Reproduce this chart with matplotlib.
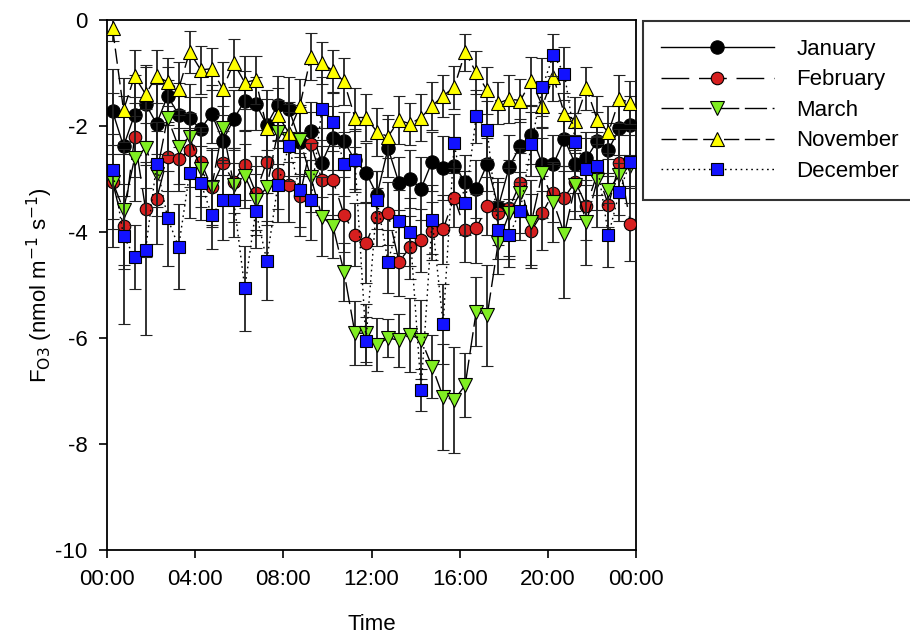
"""Half-hourly ozone flux by month, with error bars."""
import matplotlib
import numpy as np

matplotlib.use("Agg")
from matplotlib import pyplot as plt

plt.rcParams["font.family"] = ["Liberation Sans", "DejaVu Sans"]
plt.rcParams["axes.unicode_minus"] = False

# half-hour bin centres (hours)
hours = np.arange(0.25, 24.0, 0.5)

january = [-1.72, -2.38, -1.79, -1.58, -1.96, -1.43, -1.79, -1.85, -2.06, -1.77, -2.28, -1.87,
           -1.52, -1.58, -1.98, -1.60, -1.67, -2.30, -2.09, -2.69, -2.23, -2.28, -2.65, -2.88,
           -3.30, -2.42, -3.08, -3.00, -3.18, -2.67, -2.79, -2.75, -3.05, -3.19, -2.72, -3.53,
           -2.77, -2.37, -2.17, -2.72, -2.72, -2.25, -2.72, -2.61, -2.28, -2.45, -2.04, -1.99]
january_err = [0.80, 0.95, 0.75, 0.70, 0.75, 0.55, 0.60, 0.65, 0.60, 0.55, 0.65, 0.55,
               0.55, 0.50, 0.65, 0.55, 0.60, 0.65, 0.55, 0.65, 0.60, 0.55, 0.60, 0.55,
               0.45, 0.55, 0.50, 0.55, 0.60, 0.55, 0.60, 0.55, 0.50, 0.55, 0.50, 0.55,
               0.60, 0.50, 0.55, 0.50, 0.55, 0.50, 0.55, 0.50, 0.55, 0.50, 0.50, 0.55]

february = [-3.05, -3.89, -2.21, -3.57, -3.38, -2.58, -2.63, -2.45, -2.67, -3.16, -2.70, -3.05,
            -2.74, -3.26, -2.67, -2.91, -3.11, -3.33, -2.34, -3.02, -3.02, -3.67, -4.05, -4.21,
            -3.72, -3.65, -4.56, -4.29, -4.16, -3.98, -3.95, -3.35, -3.96, -3.93, -3.51, -3.65,
            -3.55, -3.07, -3.98, -3.64, -3.26, -3.35, -3.05, -3.51, -2.89, -3.49, -2.70, -3.84]
february_err = [0.70, 0.80, 0.75, 0.90, 0.85, 0.65, 0.60, 0.70, 0.65, 0.70, 0.60, 0.60,
                0.65, 0.70, 0.60, 0.65, 0.70, 0.75, 0.60, 0.65, 0.65, 0.70, 0.60, 0.75,
                0.55, 0.60, 0.65, 0.60, 0.60, 0.55, 0.65, 0.55, 0.60, 0.65, 0.55, 0.60,
                0.90, 0.65, 0.70, 0.70, 0.55, 0.60, 0.55, 0.65, 0.70, 0.60, 0.65, 0.70]

march = [-3.05, -3.58, -2.61, -2.42, -2.90, -1.84, -2.40, -2.20, -2.82, -3.16, -2.04, -3.11,
         -2.94, -3.40, -3.16, -2.11, -2.25, -2.26, -2.97, -3.71, -3.89, -4.75, -5.91, -5.91,
         -6.13, -6.00, -6.04, -5.94, -6.03, -6.54, -7.11, -7.17, -6.89, -5.50, -5.57, -4.20,
         -3.65, -3.26, -3.82, -2.89, -3.43, -4.04, -3.11, -3.82, -3.01, -3.21, -2.92, -2.75]
march_err = [0.90, 1.05, 0.80, 0.75, 0.80, 0.70, 0.70, 0.75, 0.70, 0.75, 0.65, 0.70,
             0.60, 0.65, 0.70, 0.60, 0.70, 0.65, 0.65, 0.75, 0.60, 0.55, 0.60, 0.55,
             0.50, 0.35, 0.50, 0.70, 0.75, 0.60, 1.00, 1.00, 0.60, 0.65, 0.95, 0.60,
             0.85, 0.75, 0.80, 0.85, 0.75, 1.20, 0.65, 0.80, 0.90, 0.70, 0.75, 0.70]

november = [-0.15, -1.70, -1.06, -1.40, -1.06, -1.17, -1.30, -0.60, -0.94, -0.92, -1.30, -0.81,
            -1.18, -1.13, -2.04, -1.79, -2.13, -1.62, -0.69, -0.81, -0.96, -1.16, -1.84, -1.84,
            -2.11, -2.20, -1.89, -1.96, -1.84, -1.62, -1.43, -1.27, -0.61, -0.99, -1.33, -1.57,
            -1.49, -1.52, -1.15, -1.62, -1.07, -1.77, -1.90, -1.29, -1.89, -2.12, -1.49, -1.56]
november_err = [0.25, 0.60, 0.50, 0.55, 0.50, 0.45, 0.50, 0.40, 0.45, 0.40, 0.50, 0.45,
                0.50, 0.45, 0.55, 0.50, 0.55, 0.50, 0.45, 0.40, 0.40, 0.45, 0.55, 0.45,
                0.45, 0.40, 0.45, 0.40, 0.45, 0.45, 0.40, 0.40, 0.35, 0.40, 0.45, 0.40,
                0.45, 0.40, 0.45, 0.40, 0.45, 0.40, 0.45, 0.40, 0.45, 0.50, 0.45, 0.40]

december = [-2.83, -4.08, -4.47, -4.34, -2.72, -3.74, -4.28, -2.88, -3.07, -3.68, -3.40, -3.40,
            -5.06, -3.60, -4.54, -3.11, -2.38, -3.21, -3.40, -1.67, -1.92, -2.72, -2.64, -6.05,
            -3.40, -4.56, -3.80, -4.00, -6.98, -3.77, -5.74, -2.33, -3.45, -1.82, -2.08, -3.96,
            -4.06, -3.60, -2.34, -1.27, -0.66, -1.01, -2.30, -2.82, -2.75, -4.06, -3.24, -2.67]
december_err = [1.45, 1.65, 0.60, 1.60, 0.80, 0.90, 0.80, 0.85, 0.70, 0.65, 0.75, 0.70,
                0.80, 0.70, 0.75, 0.70, 0.65, 0.70, 0.75, 0.60, 0.55, 0.60, 0.55, 0.45,
                0.55, 0.60, 0.60, 0.65, 0.40, 0.65, 0.75, 0.55, 0.60, 0.50, 0.55, 0.55,
                0.60, 0.55, 0.60, 0.55, 0.40, 0.50, 0.55, 0.60, 0.55, 0.60, 0.55, 0.50]

tick_hours = [0, 4, 8, 12, 16, 20, 24]
tick_labels = ["00:00", "04:00", "08:00", "12:00", "16:00", "20:00", "00:00"]

series = [
    ("January", january, january_err, "o", "black", "-", 9.6),
    ("February", february, february_err, "o", "#d61f1f", (0, (20, 7)), 9.0),
    ("March", march, march_err, "v", "#80ee22", (0, (16, 4)), 10.0),
    ("November", november, november_err, "^", "#ffff00", (0, (11, 4)), 10.0),
    ("December", december, december_err, "s", "#1212ff", (0, (1.2, 2.6)), 8.6),
]

fig = plt.figure(figsize=(9.1, 6.37), dpi=100)
ax = fig.add_axes([107 / 910, 1 - 550 / 637, 529 / 910, 530 / 637])

handles = []
for z, (name, values, errors, marker, color, style, size) in enumerate(series):
    cont = ax.errorbar(
        hours, values, yerr=errors,
        color="black", linestyle=style, linewidth=1.0,
        marker=marker, markersize=size, markerfacecolor=color,
        markeredgecolor="black", markeredgewidth=0.8,
        ecolor="#222222", elinewidth=1.3, capsize=4.0, capthick=1.3,
        label=name, zorder=2 + z,
    )
    handles.append(cont)

ax.set_xlim(0, 24)
ax.set_ylim(-10, 0)
ax.set_xticks(tick_hours)
ax.set_xticklabels(tick_labels)
ax.set_yticks([0, -2, -4, -6, -8, -10])
ax.tick_params(axis="both", direction="out", length=6, width=1.2, labelsize=16,
               top=False, right=False, pad=8)
for spine in ax.spines.values():
    spine.set_linewidth(1.3)

ax.set_xlabel("Time", fontsize=16, labelpad=17)
ax.set_ylabel(r"F$_{\mathrm{O3}}$ (nmol m$^{-1}$ s$^{-1}$)", fontsize=16, labelpad=0)

leg = fig.legend(
    [h[0] for h in handles], [s[0] for s in series],
    loc="upper left", bbox_to_anchor=(643 / 910, 1 - 21 / 637),
    bbox_transform=fig.transFigure, borderaxespad=0, fontsize=16,
    handlelength=5.1, handletextpad=1.0, labelspacing=0.43, borderpad=0.8,
    fancybox=False, frameon=True, edgecolor="black",
)
leg.get_frame().set_linewidth(1.5)

fig.savefig("out.png", dpi=100)
plt.close(fig)
